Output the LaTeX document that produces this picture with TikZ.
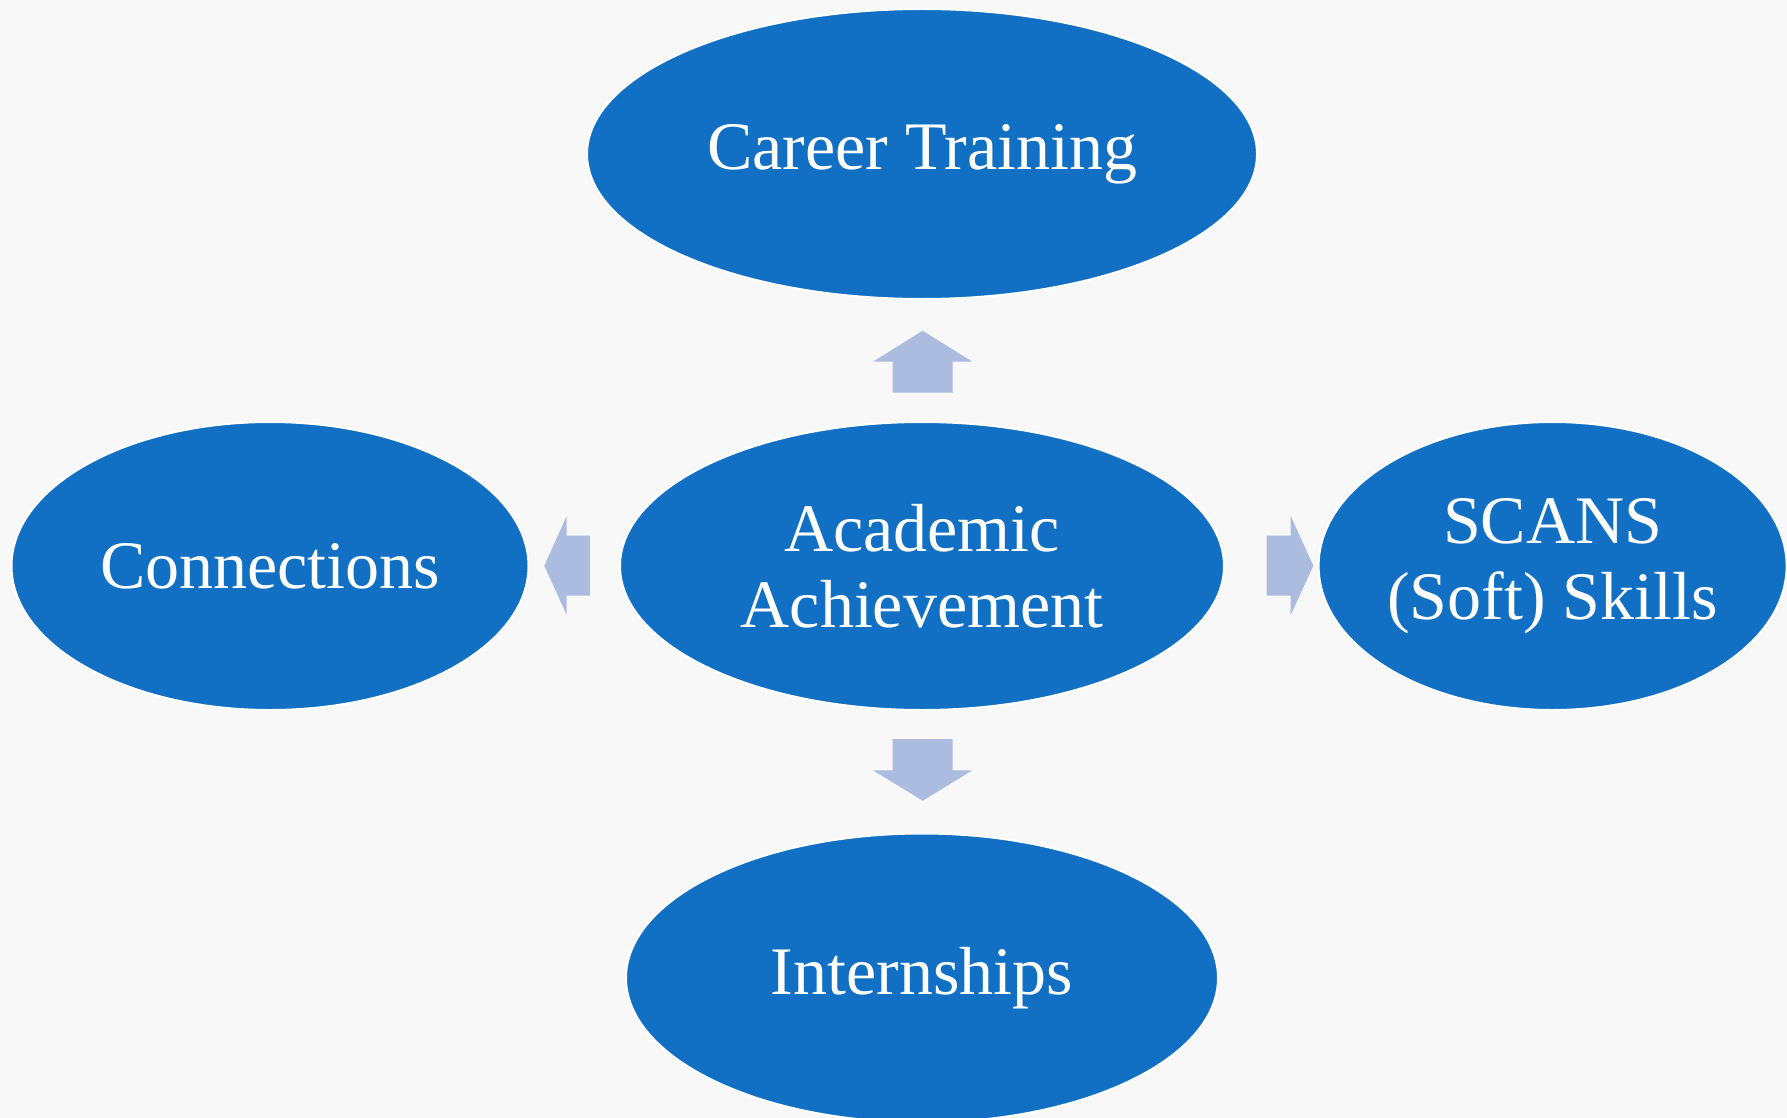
\documentclass[tikz,border=0pt]{standalone}
\usepackage{fontspec}
\setmainfont{Liberation Serif}
\usetikzlibrary{shapes.geometric}
\definecolor{ellblue}{HTML}{1170C4}
\definecolor{arrblue}{HTML}{ABBCE0}
\definecolor{bggray}{HTML}{F8F8F8}
\tikzset{
  bubble/.style={ellipse, fill=ellblue, draw=white, line width=2pt, inner sep=0pt,
    text=white, align=center, font=\fontsize{68}{76}\selectfont},
  blockarrow/.style={fill=arrblue, draw=none}
}
\begin{document}
\begin{tikzpicture}[x=1pt,y=-1pt]
\useasboundingbox (0,0) rectangle (1787,1118);
\fill[bggray] (0,0) rectangle (1787,1118);
\clip (0,0) rectangle (1787,1118);
\node[bubble, minimum width=670pt, minimum height=290pt] (career) at (922,154) {Career Training};
\node[bubble, minimum width=604pt, minimum height=288pt] (acad) at (922,566) {Academic\\Achievement};
\node[bubble, minimum width=517pt, minimum height=288pt] (conn) at (270,566) {Connections};
\node[bubble, minimum width=468pt, minimum height=288pt] (scans) at (1552.6,566) {SCANS\\(Soft) Skills};
\node[bubble, minimum width=592pt, minimum height=289pt] (intern) at (922,978) {Internships};
% block arrows
\fill[blockarrow] (892.7,392.7) -- (892.7,361.7) -- (873,361.7) -- (922.7,330.7) -- (972.3,361.7) -- (952.7,361.7) -- (952.7,392.7) -- cycle;
\fill[blockarrow] (892.7,739) -- (952.7,739) -- (952.7,770.3) -- (972.3,770.3) -- (922.7,800.7) -- (873,770.3) -- (892.7,770.3) -- cycle;
\fill[blockarrow] (590,535.7) -- (566.7,535.7) -- (566.7,516) -- (544.3,565.7) -- (566.7,615) -- (566.7,595.7) -- (590,595.7) -- cycle;
\fill[blockarrow] (1266.7,535.7) -- (1290.7,535.7) -- (1290.7,516) -- (1313.3,565.7) -- (1290.7,615) -- (1290.7,595.7) -- (1266.7,595.7) -- cycle;
\end{tikzpicture}
\end{document}
